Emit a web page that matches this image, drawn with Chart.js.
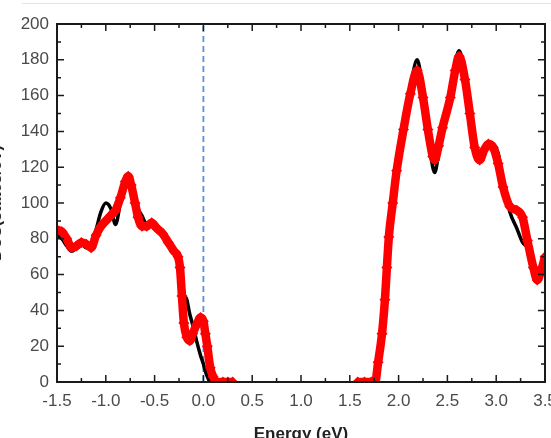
<!DOCTYPE html>
<html>
<head>
<meta charset="utf-8">
<script src="https://cdn.jsdelivr.net/npm/chart.js@4"></script>
<style>
  body { margin: 0; background: #fff; }
  #topRule { position: absolute; left: 22px; top: 3px; width: 529px; height: 1px; background: #e4e4e4; }
</style>
</head>
<body>
<div id="topRule"></div>
<canvas id="dosChart" width="551" height="438"></canvas>
<script>
const dosChart = document.getElementById("dosChart");

// valence band side (eV)
var energyLeft = [-1.50, -1.45, -1.40, -1.35, -1.30, -1.25, -1.20, -1.15, -1.10, -1.05,
    -1.00, -0.95, -0.90, -0.85, -0.80, -0.77, -0.74, -0.70, -0.67, -0.63,
    -0.58, -0.53, -0.48, -0.42, -0.36, -0.30, -0.26, -0.24, -0.22, -0.20,
    -0.17, -0.14, -0.11, -0.07, -0.03, 0.00, 0.02, 0.04, 0.07, 0.10,
    0.13, 0.20, 0.25, 0.30];
var redLeft = [85, 84, 80, 75, 76, 78, 77, 75, 82, 87,
    90, 93, 96, 103, 112, 115, 110, 100, 92, 87,
    87, 89, 86, 83, 78, 73, 70, 64, 48, 33,
    25, 23, 27, 32, 36, 34, 27, 20, 8, 3,
    0, 0, 0, 0];
var blackLeft = [82, 80, 76, 73, 75, 77, 75, 76, 85, 95,
    100, 97, 88, 100, 110, 113, 108, 103, 97, 93,
    88, 88, 86, 83, 79, 74, 70, 66, 60, 50,
    46, 38, 32, 23, 15, 10, 6, 3, 0, 0,
    0, 0, 0, 0];

// conduction band side (eV)
var energyRight = [1.58, 1.65, 1.72, 1.76, 1.79, 1.83, 1.86, 1.88, 1.90, 1.94,
    1.98, 2.05, 2.12, 2.19, 2.25, 2.30, 2.35, 2.37, 2.41, 2.45,
    2.53, 2.58, 2.62, 2.68, 2.73, 2.78, 2.83, 2.88, 2.92, 2.97,
    3.02, 3.07, 3.14, 3.21, 3.27, 3.32, 3.38, 3.42, 3.46, 3.50];
var redRight = [0, 0, 0, 0, 11, 27, 46, 64, 81, 100,
    118, 141, 161, 174, 159, 141, 126, 124, 132, 142,
    159, 174, 182, 169, 150, 131, 124, 130, 133, 131,
    122, 109, 98, 96, 92, 79, 64, 57, 62, 70];
var blackRight = [0, 0, 0, 0, 10, 26, 45, 63, 80, 100,
    118, 142, 164, 180, 162, 140, 120, 117, 128, 142,
    162, 178, 185, 172, 152, 133, 125, 131, 134, 133,
    128, 112, 95, 86, 78, 75, 64, 57, 63, 70];

var fermiX = [0, 0];
var fermiY = [0, 200];

var xMin = -1.5, xMax = 3.5, yMin = 0, yMax = 200;

function toPoints(xs, ys) {
    return xs.map(function (x, i) { return { x: x, y: ys[i] }; });
}

function redSet(xs, ys) {
    return {
        data: toPoints(xs, ys), order: 0,
        borderColor: "#ff0000", backgroundColor: "#ff0000", borderWidth: 8.5,
        pointStyle: "rectRot", pointRadius: 5.5, pointBorderWidth: 0,
        cubicInterpolationMode: "monotone", showLine: true
    };
}

function blackSet(xs, ys) {
    return {
        data: toPoints(xs, ys), order: 1,
        borderColor: "#000000", borderWidth: 3.5, pointRadius: 0,
        cubicInterpolationMode: "monotone", showLine: true
    };
}

// frame + inward ticks on all four sides
const framePlugin = {
    id: "frame",
    afterDraw: function (chart) {
        var ctx = chart.ctx, a = chart.chartArea;
        var xs = chart.scales.x, ys = chart.scales.y;
        ctx.save();
        ctx.strokeStyle = "#1a1a1a";
        ctx.lineWidth = 1.5;
        for (var v = xMin; v <= xMax + 1e-9; v += 0.25) {
            var px = xs.getPixelForValue(v);
            var len = (Math.round(v / 0.25) % 2 === 0) ? 7 : 4;
            ctx.beginPath();
            ctx.moveTo(px, a.bottom); ctx.lineTo(px, a.bottom - len);
            ctx.moveTo(px, a.top); ctx.lineTo(px, a.top + len);
            ctx.stroke();
        }
        for (var w = yMin; w <= yMax; w += 10) {
            var py = ys.getPixelForValue(w);
            var l2 = (w % 20 === 0) ? 7 : 4;
            ctx.beginPath();
            ctx.moveTo(a.left, py); ctx.lineTo(a.left + l2, py);
            ctx.moveTo(a.right, py); ctx.lineTo(a.right - l2, py);
            ctx.stroke();
        }
        ctx.lineWidth = 2;
        ctx.strokeRect(a.left, a.top, a.right - a.left, a.bottom - a.top);
        ctx.restore();
    }
};

new Chart(dosChart, {
    type: "scatter",
    data: {
        datasets: [
            redSet(energyLeft, redLeft),
            redSet(energyRight, redRight),
            blackSet(energyLeft, blackLeft),
            blackSet(energyRight, blackRight),
            {
                data: toPoints(fermiX, fermiY), order: 2, showLine: true,
                borderColor: "#5d90da", borderWidth: 1.8, borderDash: [6, 4], pointRadius: 0
            }
        ]
    },
    options: {
        responsive: false,
        animation: false,
        layout: { padding: { left: 0, right: 6, top: 24, bottom: 0 } },
        plugins: { legend: { display: false }, tooltip: { enabled: false } },
        scales: {
            x: {
                type: "linear", min: xMin, max: xMax,
                grid: { display: false, drawTicks: false },
                border: { display: false },
                ticks: {
                    stepSize: 0.5, padding: 9, color: "#4a4a4a",
                    font: { family: "Liberation Sans", size: 17 },
                    callback: function (v) { return v.toFixed(1); }
                },
                title: {
                    display: true, text: "Energy (eV)", color: "#222",
                    font: { family: "Liberation Sans", size: 17, weight: "bold" },
                    padding: { top: 0, bottom: -7 }
                },
                afterFit: function (s) { s.height = 56; s.paddingLeft = 0; s.paddingRight = 0; }
            },
            y: {
                min: yMin, max: yMax,
                grid: { display: false, drawTicks: false },
                border: { display: false },
                ticks: {
                    stepSize: 20, padding: 8, color: "#4a4a4a",
                    font: { family: "Liberation Sans", size: 17 }
                },
                title: {
                    display: true, text: "DOS(states/eV)", color: "#222",
                    font: { family: "Liberation Sans", size: 16, weight: "bold" },
                    padding: { top: -13, bottom: 0 }
                },
                afterFit: function (s) { s.width = 57; s.paddingTop = 0; s.paddingBottom = 0; }
            }
        }
    },
    plugins: [framePlugin]
});
</script>
</body>
</html>
